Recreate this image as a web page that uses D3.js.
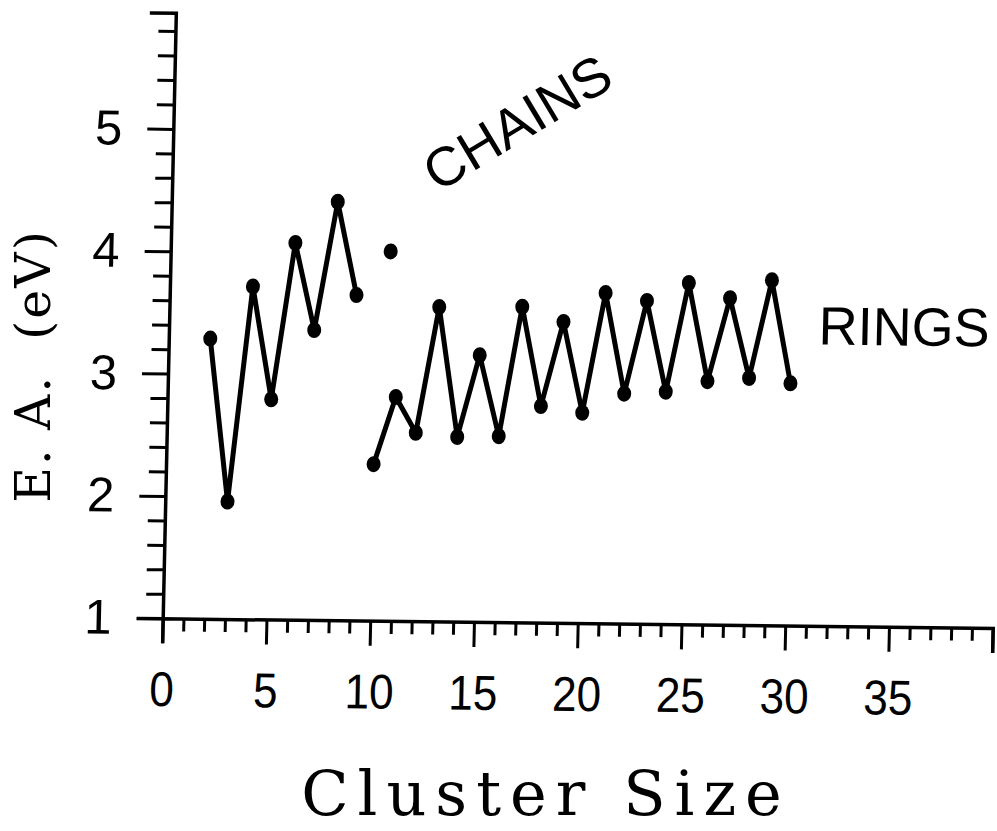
<!DOCTYPE html>
<html>
<head>
<meta charset="utf-8">
<script src="https://cdn.jsdelivr.net/npm/d3@7"></script>
<style>
  body { margin: 0; background: #fff; }
  svg { display: block; }
</style>
</head>
<body>
<div id="wrapper"></div>
<script>
// electron affinity (eV)
const chainSizes = [2, 3, 4, 5, 6, 7, 8, 9];
const chainEA = [3.29, 1.96, 3.72, 2.80, 4.08, 3.37, 4.42, 3.66];
const chainLoneSize = [10.6];
const chainLoneEA = [4.02];
const ringSizes = [10, 11, 12, 13, 14, 15, 16, 17, 18, 19, 20, 21, 22, 23, 24, 25, 26, 27, 28, 29, 30];
const ringEA = [2.28, 2.83, 2.54, 3.57, 2.51, 3.18, 2.52, 3.58, 2.77, 3.46, 2.72,
                3.70, 2.88, 3.64, 2.90, 3.79, 2.99, 3.67, 3.02, 3.82, 2.98];
const xTickLabels = [0, 5, 10, 15, 20, 25, 30, 35];
const yTickLabels = [1, 2, 3, 4, 5];

function drawChart() {
    const dimensions = {
        width: 997,
        height: 831,
        originX: 162.7,
        originY: 618.3
    };

    const svg = d3.select("#wrapper")
        .append("svg")
        .attr("width", dimensions.width)
        .attr("height", dimensions.height);

    svg.append("rect")
        .attr("width", dimensions.width)
        .attr("height", dimensions.height)
        .attr("fill", "#fff");

    const xScale = d3.scaleLinear()
        .domain([0, 40])
        .range([dimensions.originX, 992.7]);

    const yScale = d3.scaleLinear()
        .domain([1, 5.95])
        .range([dimensions.originY, 12.7]);

    // the scanned figure is slightly skewed, mimic it
    const ox = dimensions.originX, oy = dimensions.originY;
    const plot = svg.append("g")
        .attr("transform", `translate(${ox},${oy}) matrix(1,0.0117,-0.0217,1,0,0) translate(${-ox},${-oy})`);

    // Axes
    const xTicks = d3.range(0, 41);
    const xAxisGenerator = d3.axisBottom(xScale)
        .tickValues(xTicks)
        .tickSizeOuter(0)
        .tickSize(25)
        .tickPadding(28)
        .tickFormat(d => xTickLabels.includes(d) ? d : "");

    const xAxis = plot.append("g")
        .attr("transform", `translate(0, ${oy})`)
        .call(xAxisGenerator)
        .attr("font-family", "'Liberation Sans', Arial, sans-serif")
        .attr("font-size", 49);
    xAxis.select(".domain").attr("stroke-width", 3.5).attr("stroke", "#000");
    xAxis.selectAll(".tick line")
        .attr("y2", d => d % 5 === 0 ? 25 : 13)
        .attr("stroke-width", 3);
    xAxis.selectAll(".tick text")
        .attr("fill", "#000")
        .attr("transform", "scale(0.9,1)");

    const yTicks = d3.range(0, 25).map(i => +(1 + i * 0.2).toFixed(1));
    const yAxisGenerator = d3.axisLeft(yScale)
        .tickValues(yTicks)
        .tickSizeOuter(0)
        .tickSize(26)
        .tickPadding(25)
        .tickFormat(d => yTickLabels.includes(d) ? d : "");

    const yAxis = plot.append("g")
        .attr("transform", `translate(${ox}, 0)`)
        .call(yAxisGenerator)
        .attr("font-family", "'Liberation Sans', Arial, sans-serif")
        .attr("font-size", 49);
    yAxis.select(".domain").attr("stroke-width", 3.5).attr("stroke", "#000");
    yAxis.selectAll(".tick line")
        .attr("x2", d => Number.isInteger(d) ? -26 : -17)
        .attr("stroke-width", 3);
    yAxis.selectAll(".tick text").attr("fill", "#000");

    const lineGenerator = d3.line()
        .x(d => xScale(d[0]))
        .y(d => yScale(d[1]));

    const chains = d3.zip(chainSizes, chainEA);
    const rings = d3.zip(ringSizes, ringEA);
    const lone = d3.zip(chainLoneSize, chainLoneEA);

    plot.append("path")
        .datum(chains)
        .attr("d", lineGenerator)
        .attr("fill", "none")
        .attr("stroke", "#000")
        .attr("stroke-width", 5)
        .attr("stroke-linejoin", "round");

    plot.append("path")
        .datum(rings)
        .attr("d", lineGenerator)
        .attr("fill", "none")
        .attr("stroke", "#000")
        .attr("stroke-width", 5)
        .attr("stroke-linejoin", "round");

    plot.selectAll(".dot")
        .data(chains.concat(lone, rings))
        .enter()
        .append("ellipse")
        .attr("class", "dot")
        .attr("cx", d => xScale(d[0]))
        .attr("cy", d => yScale(d[1]))
        .attr("rx", 7)
        .attr("ry", 8)
        .attr("fill", "#000");

    // Labels
    plot.append("text")
        .attr("transform", `translate(${xScale(16.55)}, ${yScale(5.09)}) rotate(-32)`)
        .attr("text-anchor", "middle")
        .attr("dy", "0.36em")
        .attr("font-family", "'Liberation Sans', Arial, sans-serif")
        .attr("font-size", 55)
        .text("CHAINS");

    plot.append("text")
        .attr("x", xScale(31.3))
        .attr("y", yScale(3.30))
        .attr("font-family", "'Liberation Sans', Arial, sans-serif")
        .attr("font-size", 54)
        .text("RINGS");

    svg.append("text")
        .attr("transform", "translate(50, 366) rotate(-90)")
        .attr("text-anchor", "middle")
        .attr("font-family", "'DejaVu Serif', serif")
        .attr("font-size", 49)
        .attr("letter-spacing", 2)
        .style("white-space", "pre")
        .text("E. A.  (eV)");

    svg.append("text")
        .attr("x", 546)
        .attr("y", 815)
        .attr("text-anchor", "middle")
        .attr("font-family", "'DejaVu Serif', serif")
        .attr("font-size", 62)
        .attr("letter-spacing", 9)
        .text("Cluster Size");
}

drawChart();
</script>
</body>
</html>
